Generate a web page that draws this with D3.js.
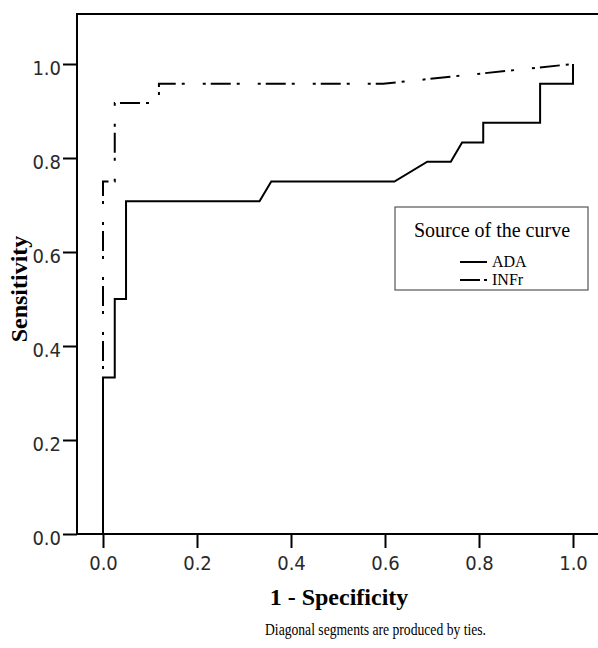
<!DOCTYPE html>
<html>
<head>
<meta charset="utf-8">
<script src="https://cdn.jsdelivr.net/npm/d3@7"></script>
<style>
  body { margin: 0; background: #fff; }
  #plot-canvas { width: 598px; height: 648px; }
  .tick text { font-family: "DejaVu Sans Condensed", "DejaVu Sans", sans-serif; font-size: 20px; fill: #2a2a2a; }
  .tick line { stroke: #000; stroke-width: 2px; }
  .label { font-family: "Liberation Serif", "Times New Roman", serif; font-weight: bold; font-size: 24px; fill: #000; }
</style>
</head>
<body>
<div id="plot-canvas"></div>
<script>
// ROC curve values
const adaFpr  = [0, 0,     0.025, 0.025, 0.049, 0.049, 0.333, 0.358, 0.62, 0.69,  0.74,  0.764, 0.809, 0.809, 0.93,  0.93,  1,     1];
const adaSens = [0, 0.333, 0.333, 0.5,   0.5,   0.708, 0.708, 0.75,  0.75, 0.792, 0.792, 0.833, 0.833, 0.875, 0.875, 0.958, 0.958, 1];
const infrFpr  = [0, 0,    0.025, 0.025, 0.119, 0.119, 0.596, 1];
const infrSens = [0, 0.75, 0.75,  0.917, 0.917, 0.958, 0.958, 1];
const tickValues = [0, 0.2, 0.4, 0.6, 0.8, 1.0];
const seriesNames = ["ADA", "INFr"];

const frame = {left: 77, right: 602, top: 14, bottom: 534};
const dashDot = "3,5,20,6,3,18";

const x = d3.scaleLinear().domain([0, 1]).range([103, 573]);
const y = d3.scaleLinear().domain([0, 1]).range([534, 64]);

const svg = d3.select("#plot-canvas").append("svg")
    .attr("width", 598)
    .attr("height", 648);

function toPoints(xs, ys) {
    return xs.map(function (d, i) { return [d, ys[i]]; });
}

const line = d3.line()
    .x(function (d) { return x(d[0]); })
    .y(function (d) { return y(d[1]); });

// frame
svg.append("rect")
    .attr("x", frame.left)
    .attr("y", frame.top)
    .attr("width", frame.right - frame.left)
    .attr("height", frame.bottom - frame.top)
    .attr("fill", "none")
    .attr("stroke", "#000")
    .attr("stroke-width", 2);

// y axis
const yAxis = svg.append("g")
    .attr("transform", "translate(" + frame.left + ",0)")
    .call(d3.axisLeft(y).tickValues(tickValues).tickSize(14).tickPadding(2).tickFormat(d3.format(".1f")));
yAxis.select(".domain").remove();
yAxis.selectAll(".tick text").attr("dy", "0.5em");

// x axis
const xAxis = svg.append("g")
    .attr("transform", "translate(0," + frame.bottom + ")")
    .call(d3.axisBottom(x).tickValues(tickValues).tickSize(14).tickPadding(8).tickFormat(d3.format(".1f")));
xAxis.select(".domain").remove();

// curves
svg.append("path")
    .datum(toPoints(infrFpr, infrSens))
    .attr("d", line)
    .attr("fill", "none")
    .attr("stroke", "#000")
    .attr("stroke-width", 2)
    .attr("stroke-dasharray", dashDot);

svg.append("path")
    .datum(toPoints(adaFpr, adaSens))
    .attr("d", line)
    .attr("fill", "none")
    .attr("stroke", "#000")
    .attr("stroke-width", 2);

// axis titles
svg.append("text")
    .attr("class", "label")
    .attr("x", 339)
    .attr("y", 605)
    .attr("text-anchor", "middle")
    .text("1 - Specificity");

svg.append("text")
    .attr("class", "label")
    .attr("transform", "translate(27,289) rotate(-90)")
    .attr("text-anchor", "middle")
    .text("Sensitivity");

svg.append("text")
    .attr("x", 265)
    .attr("y", 635)
    .attr("textLength", 221)
    .attr("lengthAdjust", "spacingAndGlyphs")
    .style("font-family", "'Liberation Serif', serif")
    .style("font-size", "17px")
    .text("Diagonal segments are produced by ties.");

// legend
const legend = svg.append("g");
legend.append("rect")
    .attr("x", 395).attr("y", 207)
    .attr("width", 193).attr("height", 83)
    .attr("fill", "#fff")
    .attr("stroke", "#555")
    .attr("stroke-width", 1.2);
legend.append("text")
    .attr("x", 492).attr("y", 237)
    .attr("text-anchor", "middle")
    .style("font-family", "'Liberation Serif', serif")
    .style("font-size", "20px")
    .text("Source of the curve");

const legendDash = [null, "20,4,3,100"];
seriesNames.forEach(function (name, i) {
    const ly = 262 + i * 18;
    legend.append("line")
        .attr("x1", 460).attr("x2", 487)
        .attr("y1", ly).attr("y2", ly)
        .attr("stroke", "#000")
        .attr("stroke-width", 2)
        .attr("stroke-dasharray", legendDash[i]);
    legend.append("text")
        .attr("x", 492).attr("y", ly + 5)
        .style("font-family", "'Liberation Serif', serif")
        .style("font-size", "16px")
        .style("font-weight", "500")
        .text(name);
});
</script>
</body>
</html>
